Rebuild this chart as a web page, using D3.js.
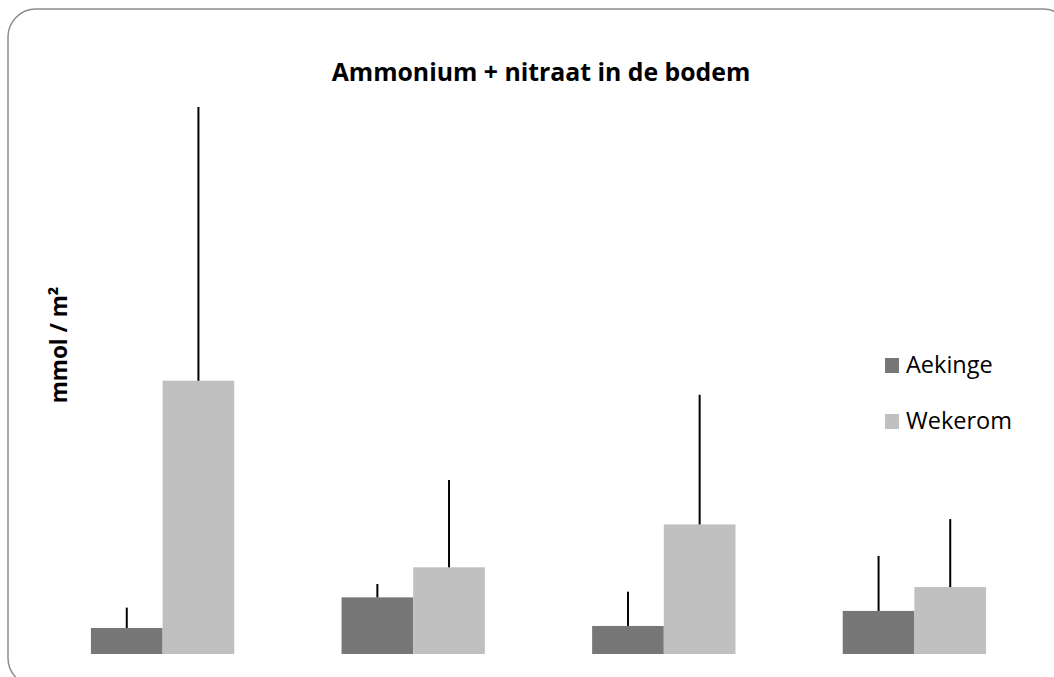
<!DOCTYPE html>
<html>
<head>
<meta charset="utf-8">
<script src="https://cdn.jsdelivr.net/npm/d3@7"></script>
<style>
  html, body { margin: 0; padding: 0; background: #fff; }
  svg { display: block; }
</style>
</head>
<body>
<script>
// Groups along the x axis (no labels are shown on the chart)
const categories = ["1", "2", "3", "4"];
const seriesNames = ["Aekinge", "Wekerom"];
// Mean values, mmol / m²
const aekinge = [14.2, 30.9, 15.3, 23.5];
const wekerom = [149.1, 47.3, 70.7, 36.5];
// Upper error (standard deviation)
const aekingeErr = [11.1, 7.3, 18.7, 30.0];
const wekeromErr = [149.3, 47.6, 70.7, 37.1];
const colors = ["#777777", "#c0c0c0"];

const W = 1054, H = 677;
const svg = d3.select("body").append("svg").attr("width", W).attr("height", H);

// Chart frame with rounded corners
svg.append("rect")
  .attr("x", 8).attr("y", 9).attr("width", 1063).attr("height", 677)
  .attr("rx", 28).attr("ry", 28)
  .attr("fill", "#fff").attr("stroke", "#8c8c8c").attr("stroke-width", 1.5);

const x0 = d3.scaleBand().domain(categories).range([37.3, 1039.7])
  .paddingInner(107.3 / 250.67).paddingOuter(0.214);
const x1 = d3.scaleBand().domain(seriesNames).range([0, x0.bandwidth()]);
const y = d3.scaleLinear().domain([0, 300]).range([654, 104]);

const data = categories.map((c, i) => ({
  cat: c,
  vals: [
    { s: "Aekinge", v: aekinge[i], e: aekingeErr[i] },
    { s: "Wekerom", v: wekerom[i], e: wekeromErr[i] }
  ]
}));

const g = svg.append("g");
const grp = g.selectAll("g.grp").data(data).join("g")
  .attr("class", "grp")
  .attr("transform", d => `translate(${x0(d.cat)},0)`);

grp.selectAll("rect").data(d => d.vals).join("rect")
  .attr("x", d => x1(d.s))
  .attr("y", d => y(d.v))
  .attr("width", x1.bandwidth())
  .attr("height", d => y(0) - y(d.v))
  .attr("fill", (d, i) => colors[i]);

grp.selectAll("line.err").data(d => d.vals).join("line")
  .attr("class", "err")
  .attr("x1", d => x1(d.s) + x1.bandwidth() / 2)
  .attr("x2", d => x1(d.s) + x1.bandwidth() / 2)
  .attr("y1", d => y(d.v))
  .attr("y2", d => y(d.v + d.e))
  .attr("stroke", "#000").attr("stroke-width", 2);

// Title
svg.append("text")
  .attr("x", 541).attr("y", 81)
  .attr("text-anchor", "middle")
  .attr("font-family", "'Open Sans', sans-serif")
  .attr("font-weight", "bold").attr("font-size", 24.8)
  .attr("fill", "#000")
  .text("Ammonium + nitraat in de bodem");

// Y axis title
svg.append("text")
  .attr("transform", "translate(67,345) rotate(-90)")
  .attr("text-anchor", "middle")
  .attr("font-family", "'Open Sans', sans-serif")
  .attr("font-weight", "bold").attr("font-size", 22.5)
  .attr("fill", "#000")
  .text("mmol / m²");

// Legend
const leg = svg.append("g");
seriesNames.forEach((s, i) => {
  const top = 358 + i * 56;
  leg.append("rect").attr("x", 885).attr("y", top).attr("width", 14).attr("height", 15)
    .attr("fill", colors[i]);
  leg.append("text").attr("x", 906).attr("y", top + 15)
    .attr("font-family", "'Open Sans', sans-serif").attr("font-size", 23.5)
    .attr("fill", "#000").text(s);
});
</script>
</body>
</html>
